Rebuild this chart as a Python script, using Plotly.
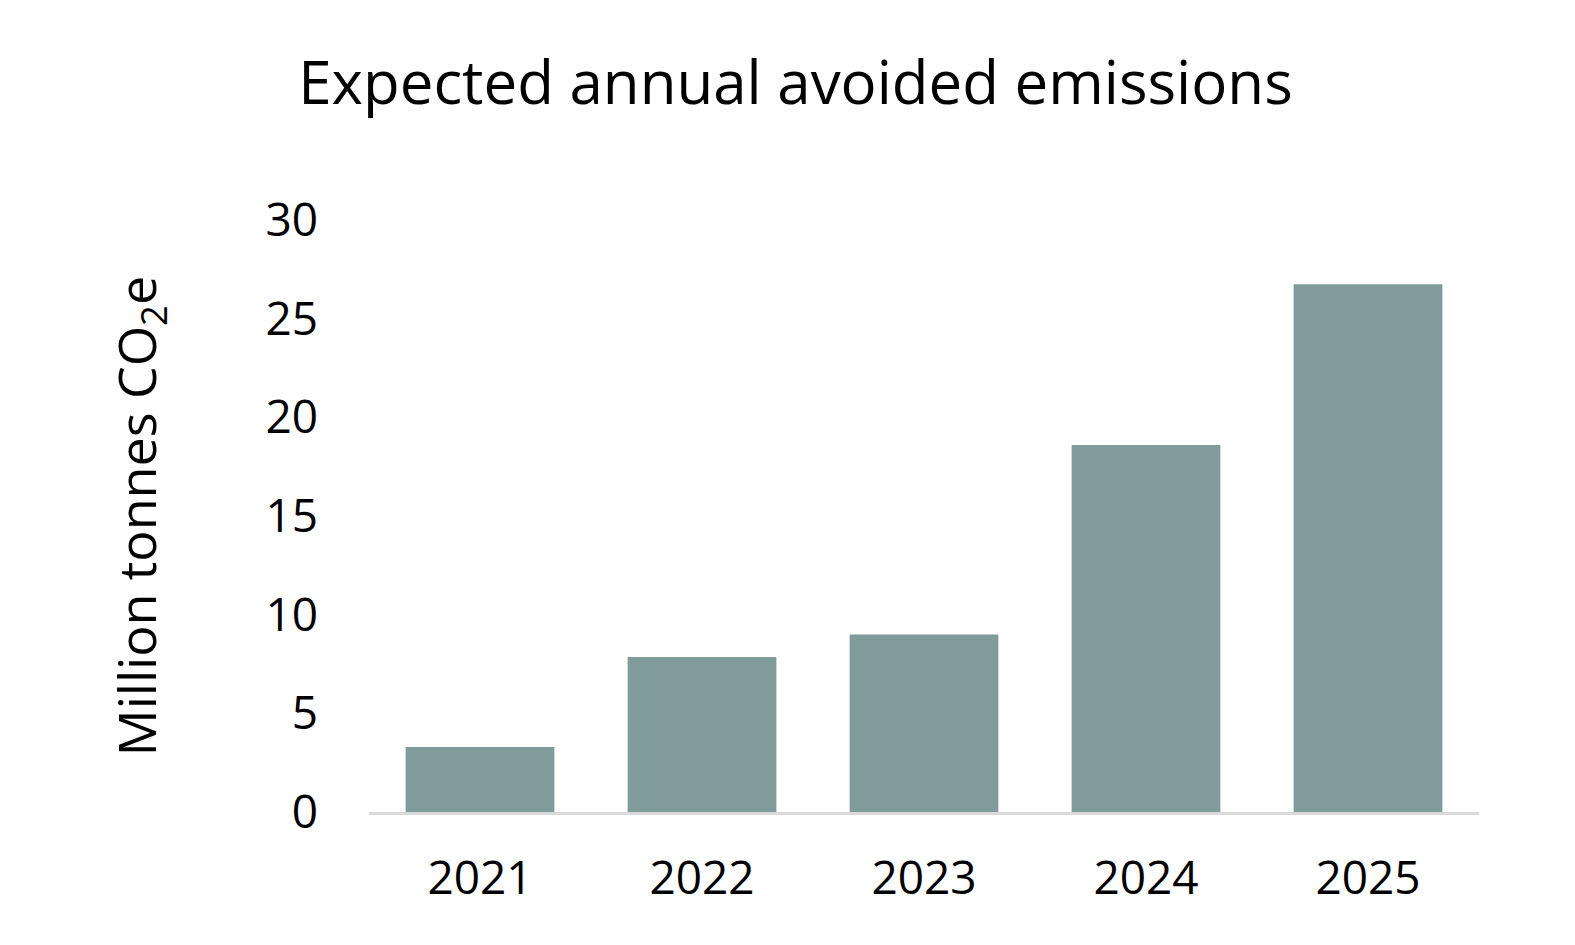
import plotly.graph_objects as go

years = ["2021", "2022", "2023", "2024", "2025"]
avoided_mt = [3.3, 7.85, 9.0, 18.6, 26.75]

font_family = "Open Sans, Noto Sans, sans-serif"

fig = go.Figure(go.Bar(x=years, y=avoided_mt, marker=dict(color="#7f9c9b", line=dict(width=0))))

fig.update_layout(
    width=1575,
    height=945,
    paper_bgcolor="white",
    plot_bgcolor="white",
    font=dict(family=font_family, color="black", size=46),
    title=dict(text="Expected annual avoided emissions", x=0.5, xanchor="center",
               y=0.921, yanchor="middle", font=dict(size=60)),
    margin=dict(l=361, r=104, t=212, b=141),
    bargap=0.33,
    showlegend=False,
)

fig.update_yaxes(
    range=[0, 30],
    dtick=5,
    showgrid=False,
    zeroline=False,
    showline=False,
    ticks="",
    ticklabelstandoff=50,
    title=dict(text="Million tonnes CO<sub>2</sub>e", font=dict(size=52), standoff=92),
)
fig.update_xaxes(
    showline=True,
    linecolor="#d9d9d9",
    linewidth=3,
    ticks="",
    ticklabelstandoff=24,
)

fig.write_html("out.html")
